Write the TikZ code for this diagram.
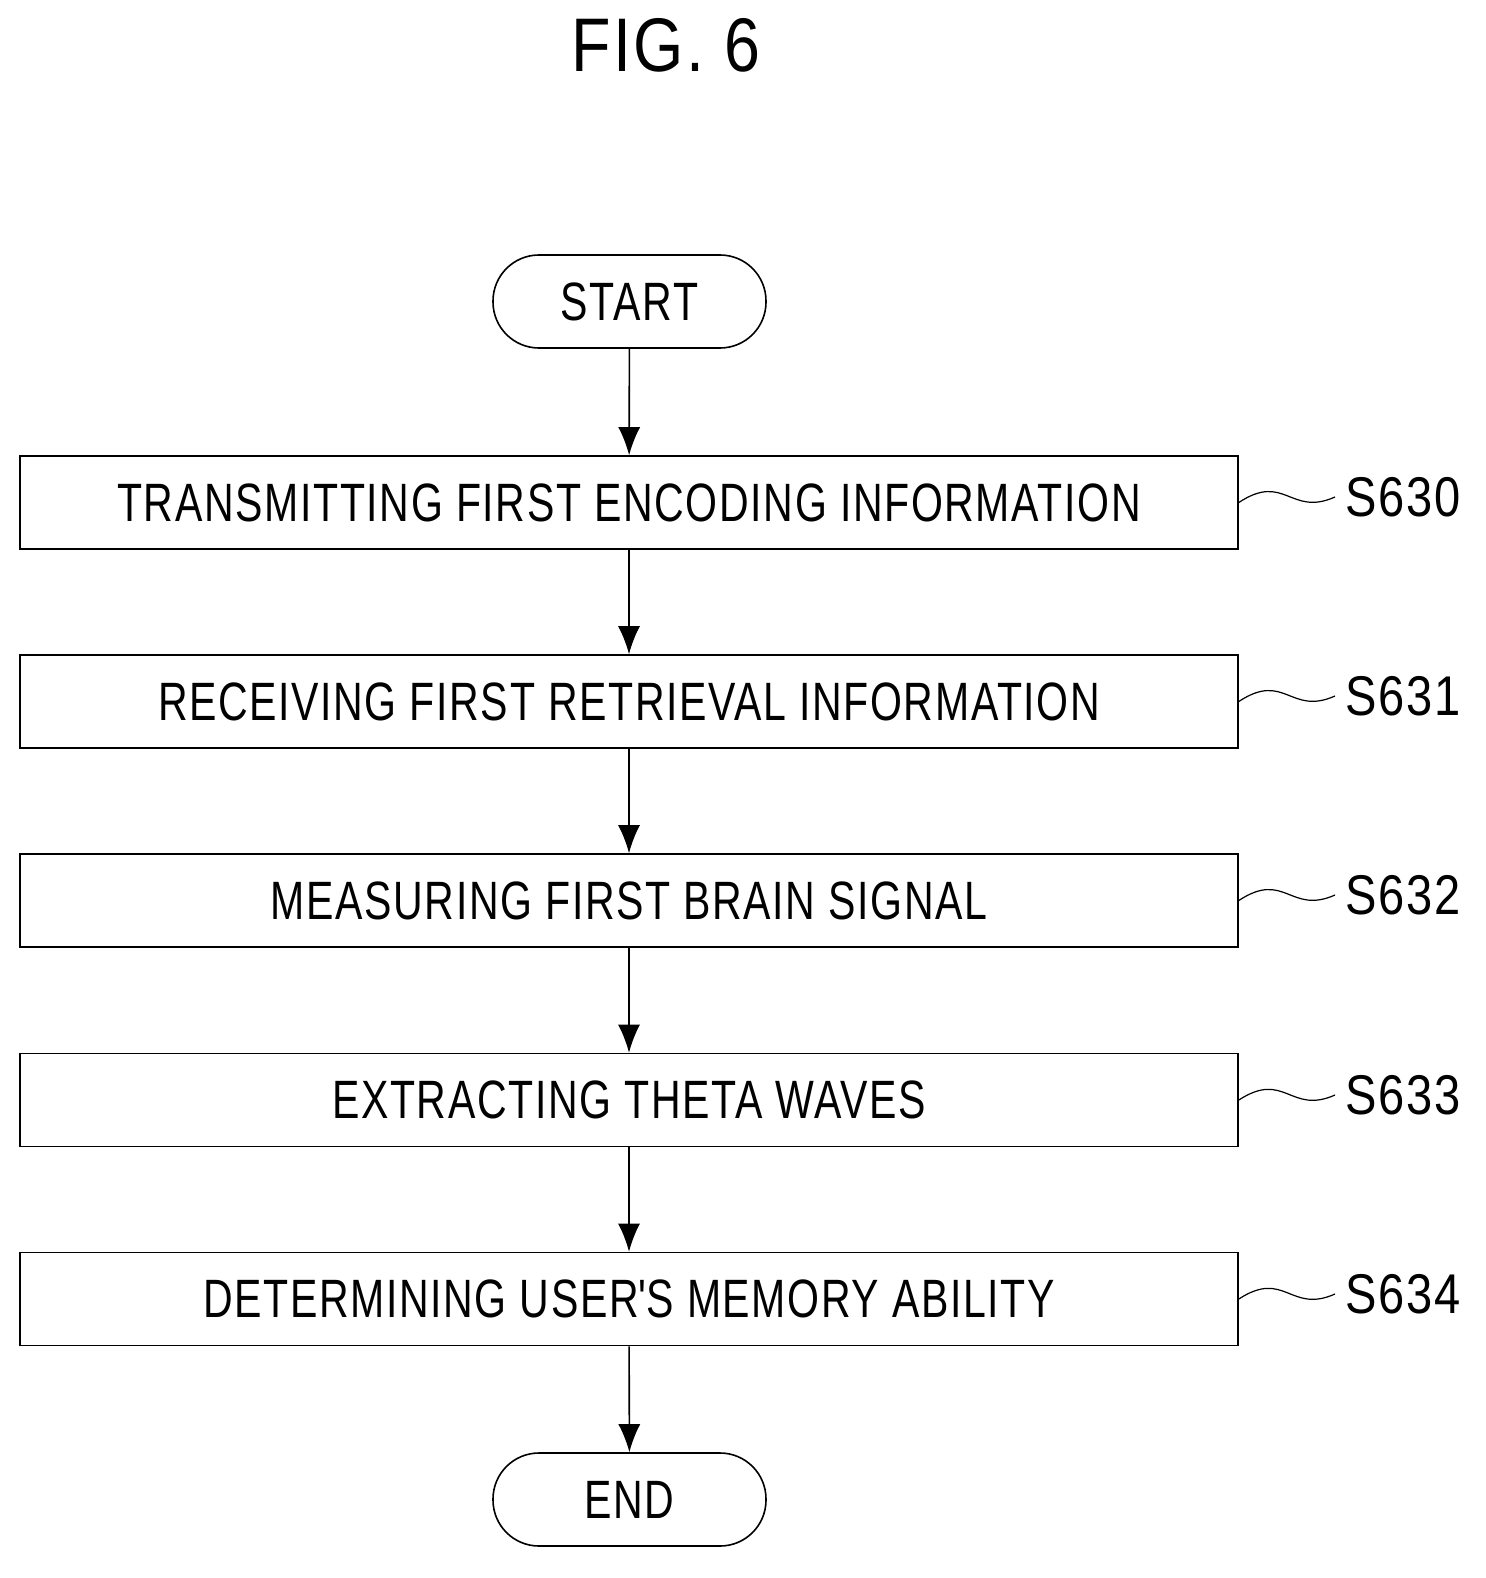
\documentclass[tikz,border=0pt]{standalone}
\usepackage{fontspec}
\setmainfont{Liberation Sans}[LetterSpace=4]
\usepackage{graphicx}
\usetikzlibrary{arrows.meta}
\newcommand{\nar}[1]{\scalebox{0.76}[1]{#1}}
\begin{document}
\begin{tikzpicture}[x=0.5pt,y=-0.5pt,
  box/.style={draw,line width=0.8pt,minimum width=609pt,minimum height=46.5pt,inner sep=0pt,font=\fontsize{27}{30}\selectfont},
  term/.style={draw,line width=0.8pt,minimum width=136.5pt,minimum height=46.5pt,rounded corners=23pt,inner sep=0pt,font=\fontsize{27}{30}\selectfont},
  arr/.style={line width=0.8pt,-{Latex[length=14pt,width=11pt]}},
  lab/.style={font=\fontsize{28}{30}\selectfont,anchor=west,inner sep=0pt},
  wav/.style={line width=0.6pt}]
\useasboundingbox (0,0) rectangle (1486,1578);
\node[font=\fontsize{38}{44}\selectfont] (title) at (666,45) {\scalebox{0.85}[1]{FIG. 6}};
\node[term] (start) at (629.5,301.5) {\nar{START}};
\node[box] (b0) at (629,502.5) {\nar{TRANSMITTING FIRST ENCODING INFORMATION}};
\node[box] (b1) at (629,701.5) {\nar{RECEIVING FIRST RETRIEVAL INFORMATION}};
\node[box] (b2) at (629,900.5) {\nar{MEASURING FIRST BRAIN SIGNAL}};
\node[box] (b3) at (629,1100) {\nar{EXTRACTING THETA WAVES}};
\node[box] (b4) at (629,1299) {\nar{DETERMINING USER\textquotesingle S MEMORY ABILITY}};
\node[term] (end) at (629.5,1499.5) {\nar{END}};
\draw[arr] (start) -- (b0);
\draw[arr] (b0) -- (b1);
\draw[arr] (b1) -- (b2);
\draw[arr] (b2) -- (b3);
\draw[arr] (b3) -- (b4);
\draw[arr] (b4) -- (end);
\foreach \n/\y/\t in {b0/497/S630,b1/696/S631,b2/895/S632,b3/1095/S633,b4/1294/S634}{
  \coordinate (w\n) at (1335,\y);
  \draw[wav] (\n.east) .. controls (1285,\y-25) and (1290,\y+20) .. (w\n);
  \node[lab] (l\n) at (1345,\y) {\scalebox{0.84}[1]{\t}};
}
\end{tikzpicture}
\end{document}
